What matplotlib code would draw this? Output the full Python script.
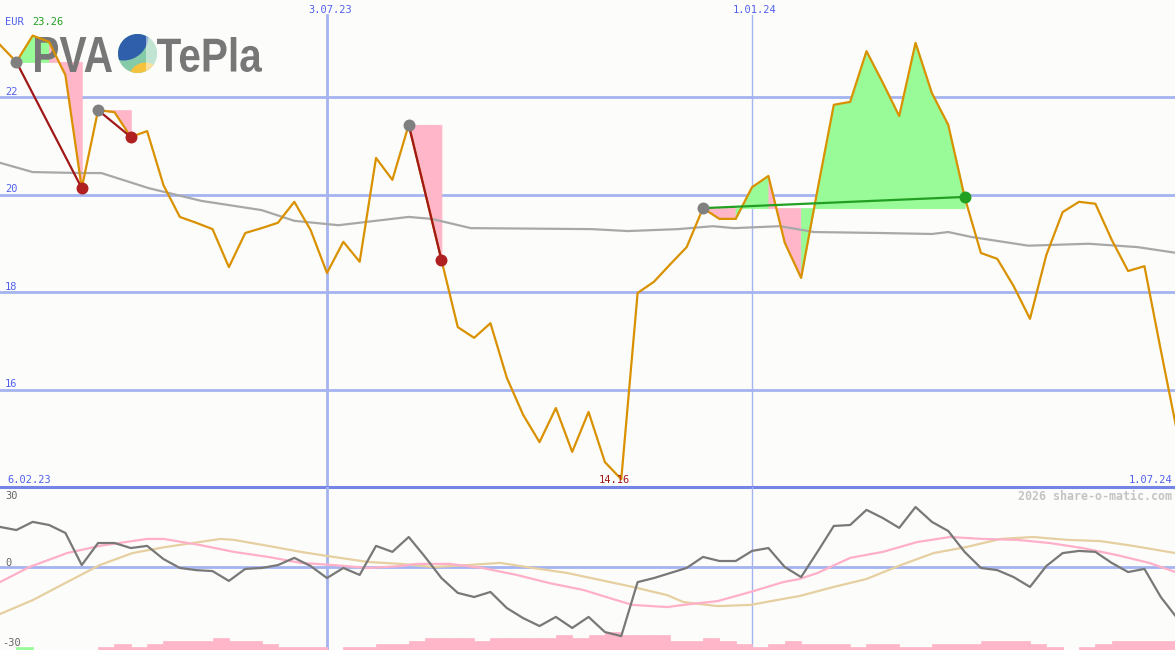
import numpy as np
import pandas as pd
import matplotlib
matplotlib.use("Agg")
import matplotlib.pyplot as plt
from matplotlib.textpath import TextPath
from matplotlib.font_manager import FontProperties
from matplotlib.patches import PathPatch, Circle, Rectangle
from matplotlib.transforms import Affine2D

# week index counted from 6.02.23
start = pd.Timestamp("2023-02-06")
weeks = np.arange(1, 74)

price = [23.07, 22.72, 23.26, 23.13, 22.45, 20.13, 21.73, 21.69, 21.18, 21.30,
         20.19, 19.54, 19.42, 19.29, 18.51, 19.21, 19.31, 19.42, 19.85, 19.27,
         18.39, 19.03, 18.62, 20.75, 20.30, 21.43, 20.05, 18.66, 17.28, 17.06,
         17.36, 16.24, 15.48, 14.92, 15.62, 14.72, 15.54, 14.51, 14.16, 17.98,
         18.21, 18.57, 18.92, 19.72, 19.50, 19.50, 20.15, 20.38, 19.01, 18.29,
         20.09, 21.84, 21.90, 22.94, 22.29, 21.61, 23.11, 22.08, 21.43, 19.95,
         18.80, 18.68, 18.12, 17.45, 18.76, 19.64, 19.85, 19.81, 19.07, 18.43,
         18.53, 16.81, 15.13]

# moving average (read at a few points)
ma_weeks = [1.0, 3.0, 6.0, 7.2, 10.1, 13.3, 17.0, 19.0, 21.7, 26.0, 27.4, 29.8, 37.2, 39.4,
            42.5, 44.6, 45.9, 48.7, 50.8, 54.9, 58.0, 59.0, 60.4, 63.9, 67.6, 70.6, 73.0]
ma_vals = [20.65, 20.46, 20.44, 20.44, 20.13, 19.87, 19.68, 19.46, 19.37, 19.54, 19.50, 19.31, 19.29, 19.25,
           19.29, 19.35, 19.31, 19.35, 19.23, 19.21, 19.19, 19.23, 19.13, 18.95, 18.99, 18.92, 18.80]

# trades: entry / exit week
trade_entry = [2, 7, 26, 44]
trade_exit = [6, 9, 28, 60]

# oscillator panel
momentum = [16.7, 15.4, 18.8, 17.5, 14.2, 0.8, 10.0, 10.0, 7.9, 8.8,
            3.3, -0.4, -1.3, -1.7, -5.8, -0.8, -0.4, 0.8, 3.8, 0.4,
            -4.6, -0.4, -3.3, 8.8, 6.3, 12.5, 4.2, -4.6, -10.8, -12.5,
            -10.4, -17.1, -21.3, -24.6, -20.8, -25.4, -20.8, -27.1, -28.8, -6.3,
            -4.6, -2.5, -0.4, 4.2, 2.5, 2.5, 6.7, 7.9, 0.0, -4.2,
            6.3, 17.1, 17.5, 23.8, 20.4, 16.3, 25.0, 18.8, 15.0, 6.3,
            -0.4, -1.3, -4.2, -8.3, 0.4, 5.8, 6.7, 6.3, 1.7, -2.1,
            -0.8, -12.5, -21.3]

pink_weeks = [1.0, 2.8, 5.1, 7.1, 10.0, 11.0, 13.2, 15.3, 17.4, 19.4, 21.4, 23.5, 25.5,
              26.5, 28.5, 30.5, 32.6, 34.6, 36.7, 38.7, 39.7, 41.8, 42.8, 44.9, 46.9,
              48.9, 49.9, 51.0, 53.0, 55.0, 57.1, 59.1, 61.1, 63.2, 65.2, 67.2, 69.3, 71.3, 72.9]
pink_vals = [-6.3, 0.0, 5.8, 8.8, 11.7, 11.7, 9.2, 6.3, 4.2, 1.7, 0.8, -0.4, 0.4,
             1.3, 1.3, -0.4, -3.3, -6.7, -9.6, -13.8, -15.8, -16.7, -15.8, -14.2, -10.4,
             -6.3, -5.0, -2.5, 3.8, 6.3, 10.4, 12.5, 11.7, 11.3, 10.0, 7.9, 5.0, 1.7, -2.1]

tan_weeks = [1.0, 3.0, 5.1, 7.1, 9.1, 11.1, 13.2, 14.5, 15.3, 17.4, 19.4, 21.4, 23.5,
             25.5, 27.5, 29.6, 31.6, 33.6, 35.7, 37.7, 39.7, 41.8, 42.8, 44.9, 46.9,
             48.9, 49.9, 52.0, 54.0, 56.1, 58.1, 60.1, 62.2, 64.2, 66.3, 68.3, 70.3, 72.9]
tan_vals = [-19.6, -13.8, -6.3, 0.8, 5.8, 8.3, 10.4, 11.7, 11.3, 8.8, 6.3, 4.2, 2.1,
            1.3, 0.0, 0.8, 1.7, -0.4, -2.5, -5.4, -8.3, -11.7, -14.6, -16.3, -15.8,
            -13.3, -12.1, -8.3, -5.0, 0.8, 5.8, 8.3, 11.7, 12.5, 11.3, 10.8, 8.8, 5.8]

bar_levels = [0, 1, 0, 0, 0, 0, 1, 2, 1, 2,
              3, 3, 3, 4, 3, 3, 2, 1, 1, 1,
              0, 1, 1, 2, 2, 3, 4, 4, 4, 3,
              4, 4, 4, 4, 5, 4, 5, 6, 5, 5,
              5, 3, 3, 4, 3, 2, 1, 2, 3, 2,
              2, 2, 1, 2, 2, 1, 1, 2, 2, 2,
              3, 3, 3, 2, 1, 0, 1, 2, 3, 3,
              3, 3, 3]
bar_green_weeks = [2]

price_ticks = [16, 18, 20, 22]
osc_ticks = [-30, 0, 30]
half_year_marks = ["2023-07-03", "2024-01-01"]
mark_labels = ["3.07.23", "1.01.24"]
first_label, last_label = "6.02.23", "1.07.24"


def wk(d):
    return (pd.Timestamp(d) - start).days / 7


W, H, HTOP = 1175, 650, 487
bg = "#fcfdfa"
blue_txt = "#5060ee"
grid = "#a5b4f0"
mono = "DejaVu Sans Mono"

fig = plt.figure(figsize=(W / 100, H / 100), dpi=100)
fig.patch.set_facecolor(bg)
ax = fig.add_axes([0, (H - HTOP) / H, 1, HTOP / H])
ax2 = fig.add_axes([0, 0, 1, (H - HTOP) / H])
for a in (ax, ax2):
    a.set_axis_off()
    a.set_xlim(1.0, 72.87)
ax.set_ylim(14, 14 + HTOP / 48.75)
osc_top, osc_bot = (567 - 487) / 2.4, -(650 - 567) / 2.4
ax2.set_ylim(osc_bot, osc_top)

# grid
for t in price_ticks:
    ax.axhline(t, color=grid, lw=2, zorder=0.5)
    ax.annotate(str(t), xy=(0, t), xycoords=ax.get_yaxis_transform(), xytext=(5, 2),
                textcoords="offset pixels", va="baseline", ha="left", color=blue_txt,
                family=mono, fontsize=7.5)
ax.axhline(14, color="#7585e6", lw=2.2, zorder=6, clip_on=False)
for d, lab, lw in zip(half_year_marks, mark_labels, [2, 1]):
    ax.axvline(wk(d), ymax=(HTOP - 15) / HTOP, color=grid, lw=lw, zorder=0.5)
    ax2.axvline(wk(d), color=grid, lw=lw, zorder=0.5)
    ax.annotate(lab, xy=(wk(d), 1), xycoords=ax.get_xaxis_transform(), xytext=(3, -13),
                textcoords="offset pixels", ha="center", va="baseline", color=blue_txt,
                family=mono, fontsize=7.5)
ax.annotate(first_label, xy=(0, 0), xycoords="axes fraction", xytext=(7, 4),
            textcoords="offset pixels", ha="left", va="baseline", color=blue_txt,
            family=mono, fontsize=7.5)
ax.annotate(last_label, xy=(1, 0), xycoords="axes fraction", xytext=(-3, 4),
            textcoords="offset pixels", ha="right", va="baseline", color=blue_txt,
            family=mono, fontsize=7.5)

# trade shading, per week segment
green_fill, pink_fill = "#98fb98", "#ffb6c8"
for e, x in zip(trade_entry, trade_exit):
    pe = price[e - 1]
    for w in range(e + 1, x + 1):
        c = green_fill if price[w - 1] > pe else pink_fill
        ax.fill_between([w - 1, w], pe, [price[w - 2], price[w - 1]], fc=c, ec=c, lw=0.6, zorder=1)

# logo
pix = Affine2D().scale(1 / W, 1 / HTOP) + ax.transAxes
logo_font = FontProperties(family="Liberation Sans", weight="bold")


def logo_text(s, x0, x1, y0, y1):
    tp = TextPath((0, 0), s, size=40, prop=logo_font)
    ext = tp.get_extents()
    tr = (Affine2D().translate(-ext.x0, -ext.y0)
          .scale((x1 - x0) / ext.width, (y1 - y0) / ext.height)
          .translate(x0, HTOP - y1))
    ax.add_patch(PathPatch(tr.transform_path(tp), transform=pix, fc="#777777", ec="none", zorder=1.5))


logo_text("PVA", 35, 112, 37, 72)
logo_text("TePla", 157, 262, 37, 72)
cx, cy, r = 137.5, HTOP - 53.5, 19.5
base = Circle((cx, cy), r, transform=pix, fc="#86cba8", ec="none", zorder=1.5)
ax.add_patch(base)
for p in [Circle((cx - 14, cy + 18), 25, fc="#2f5fab"),
          Circle((cx + 8, cy - 26), 17, fc="#f4c23c"),
          Rectangle((cx + 8, cy - r), 14, 2 * r, fc="white", alpha=0.5)]:
    p.set_transform(pix)
    p.set_edgecolor("none")
    p.set_zorder(1.6)
    ax.add_patch(p)
    p.set_clip_path(base)

# moving average and price
ax.plot(ma_weeks, ma_vals, color="#a8a8a8", lw=1.6, zorder=2)
ax.plot(weeks, price, color="#d99100", lw=1.6, zorder=3)

for e, x in zip(trade_entry, trade_exit):
    pe, px = price[e - 1], price[x - 1]
    win = px > pe
    lc = "#22a022" if win else "#a01818"
    dc = "#22a022" if win else "#b02020"
    ax.plot([e, x], [pe, px], color=lc, lw=1.6, zorder=3.5)
    ax.plot(e, pe, "o", ms=8.6, color="#808080", mec="none", zorder=5)
    ax.plot(x, px, "o", ms=8.6, color=dc, mec="none", zorder=5)

# header text
ax.annotate("EUR", xy=(0, 1), xycoords="axes fraction", xytext=(5, -25),
            textcoords="offset pixels", va="baseline", color=blue_txt, family=mono, fontsize=7.5)
ax.annotate(f"{max(price):.2f}", xy=(0, 1), xycoords="axes fraction", xytext=(32, -25),
            textcoords="offset pixels", va="baseline", color="#22a022", family=mono, fontsize=7.5)
imin = int(np.argmin(price))
ax.annotate(f"{price[imin]:.2f}", xy=(weeks[imin], 14), xytext=(-7, 4),
            textcoords="offset pixels", ha="center", va="baseline", color="#a01818",
            family=mono, fontsize=7.5, zorder=6)

# oscillator panel
ax2.axhline(0, color=grid, lw=2, zorder=0.5)
bar_colors = ["#98fb98" if w in bar_green_weeks else "#ffb6c8" for w in weeks]
ax2.bar(weeks, np.array(bar_levels) * 1.25, bottom=osc_bot, width=1, align="edge",
        color=bar_colors, ec=bar_colors, lw=0.5, zorder=1)
ax2.plot(tan_weeks, tan_vals, color="#e6cfa0", lw=1.6, zorder=2)
ax2.plot(pink_weeks, pink_vals, color="#ffb0c8", lw=1.6, zorder=2)
ax2.plot(weeks, momentum, color="#787878", lw=1.6, zorder=3)
for t, dx, dy in zip(osc_ticks, [2, 5, 5], [-7, 1, -4]):
    ax2.annotate(str(t), xy=(0, t), xycoords=ax2.get_yaxis_transform(), xytext=(dx, dy),
                 textcoords="offset pixels", va="baseline", color="#666666",
                 family=mono, fontsize=7.5)
ax2.annotate("2026 share-o-matic.com", xy=(1, 1), xycoords="axes fraction", xytext=(-3, -13),
             textcoords="offset pixels", ha="right", va="baseline", color="#c4c4c4",
             family=mono, fontsize=8.4, weight="bold")

fig.savefig("out.png", dpi=100, facecolor=bg)
